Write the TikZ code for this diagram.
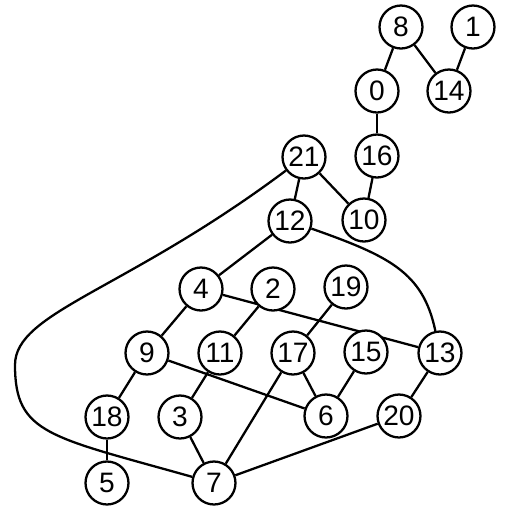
\documentclass[tikz,border=0pt]{standalone}
\usepackage{fontspec}
\setmainfont{Liberation Sans}
\usetikzlibrary{backgrounds}
\begin{document}
\begin{tikzpicture}[x=0.02cm,y=-0.02cm,
  vtx/.style={circle,draw=black,fill=white,line width=1.3pt,minimum size=0.86cm,inner sep=0pt,font=\fontsize{16}{18}\selectfont},
  edge/.style={draw=black,line width=1.3pt}]
\useasboundingbox (0,0) rectangle (512,512);
\node[vtx] (n8) at (401,27) {8};
\node[vtx] (n1) at (473,27) {1};
\node[vtx] (n0) at (377,91) {0};
\node[vtx] (n14) at (449,91) {14};
\node[vtx] (n21) at (304,157) {21};
\node[vtx] (n16) at (377,156) {16};
\node[vtx] (n12) at (290,221) {12};
\node[vtx] (n10) at (364,220) {10};
\node[vtx] (n4) at (201,289) {4};
\node[vtx] (n2) at (273,289) {2};
\node[vtx] (n19) at (346,287) {19};
\node[vtx] (n9) at (147,353) {9};
\node[vtx] (n11) at (220,353) {11};
\node[vtx] (n17) at (293,353) {17};
\node[vtx] (n15) at (366,352) {15};
\node[vtx] (n13) at (440,353) {13};
\node[vtx] (n18) at (107,417) {18};
\node[vtx] (n3) at (180,417) {3};
\node[vtx] (n6) at (326,416) {6};
\node[vtx] (n20) at (399,416) {20};
\node[vtx] (n5) at (107,483) {5};
\node[vtx] (n7) at (214,483) {7};
\begin{scope}[on background layer]
\draw[edge] (n8) -- (n0);
\draw[edge] (n8) -- (n14);
\draw[edge] (n1) -- (n14);
\draw[edge] (n0) -- (n16);
\draw[edge] (n16) -- (n10);
\draw[edge] (n21) -- (n10);
\draw[edge] (n21) -- (n12);
\draw[edge] (n12) -- (n4);
\draw[edge] (n12) .. controls (389,256) and (423,272) .. (n13);
\draw[edge] (n4) -- (n9);
\draw[edge] (n4) -- (n13);
\draw[edge] (n2) -- (n11);
\draw[edge] (n19) -- (n17);
\draw[edge] (n9) -- (n18);
\draw[edge] (n9) -- (n6);
\draw[edge] (n11) -- (n3);
\draw[edge] (n17) -- (n6);
\draw[edge] (n17) -- (n7);
\draw[edge] (n15) -- (n6);
\draw[edge] (n13) -- (n20);
\draw[edge] (n20) -- (n7);
\draw[edge] (n18) -- (n5);
\draw[edge] (n3) -- (n7);
\draw[edge] (n21) .. controls (125,291) and (15,312) .. (15,365)
  .. controls (15,434) and (49,436.5) .. (n7);
\end{scope}
\end{tikzpicture}
\end{document}
